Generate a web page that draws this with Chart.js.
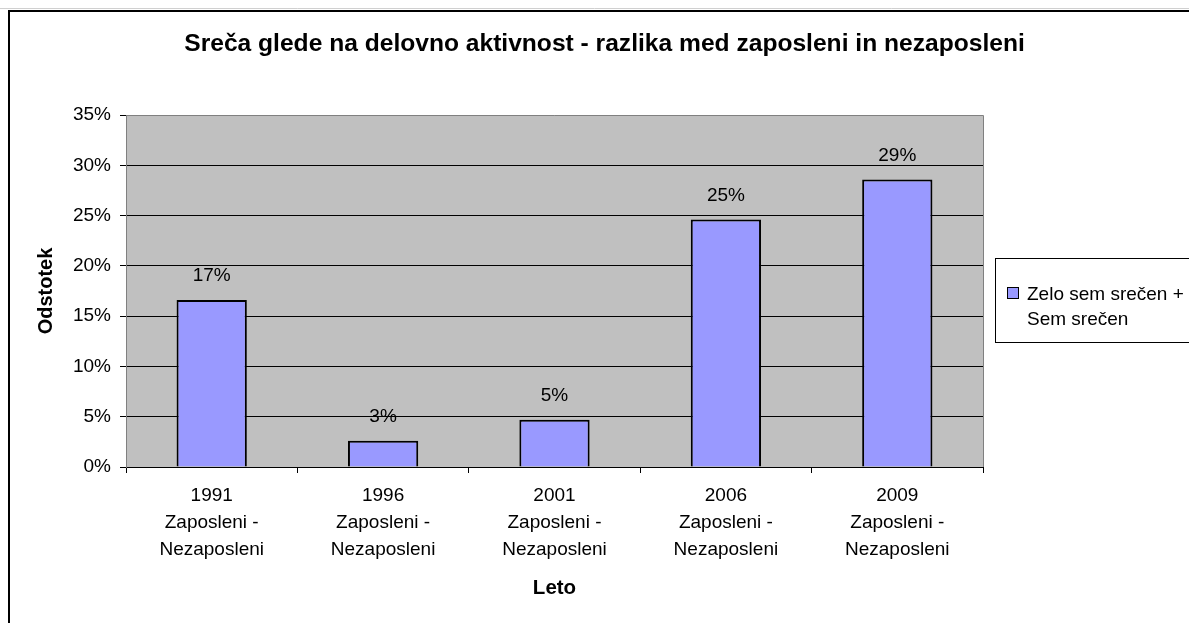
<!DOCTYPE html>
<html>
<head>
<meta charset="utf-8">
<script src="https://cdn.jsdelivr.net/npm/chart.js@4/dist/chart.umd.min.js"></script>
<style>
  html, body { margin: 0; padding: 0; background: #ffffff; }
  canvas { display: block; }
</style>
</head>
<body>
<canvas id="c" width="1189" height="623"></canvas>
<script>
// ---- data ----
const years = ['1991', '1996', '2001', '2006', '2009'];
const groupLabel = ['Zaposleni -', 'Nezaposleni'];
const values = [16.6, 2.6, 4.7, 24.6, 28.6];
const seriesName = 'Zelo sem srečen + Sem srečen';
const chartTitle = 'Sreča glede na delovno aktivnost - razlika med zaposleni in nezaposleni';
const xTitle = 'Leto';
const yTitle = 'Odstotek';
const yMin = 0, yMax = 35, yStep = 5;

const FONT = "'Liberation Sans', Arial, sans-serif";
const categories = years.map(y => [y].concat(groupLabel));

const backgroundPlugin = {
  id: 'bg',
  beforeDraw(chart) {
    const {ctx, chartArea: a} = chart;
    ctx.save();
    ctx.fillStyle = '#ffffff';
    ctx.fillRect(0, 0, chart.width, chart.height);
    // outer frame
    ctx.strokeStyle = '#d0d0d0';
    ctx.lineWidth = 1;
    ctx.beginPath(); ctx.moveTo(0, 8.5); ctx.lineTo(chart.width, 8.5); ctx.stroke();
    ctx.strokeStyle = '#000000';
    ctx.lineWidth = 2;
    ctx.beginPath();
    ctx.moveTo(9, chart.height + 5);
    ctx.lineTo(9, 11);
    ctx.lineTo(chart.width + 5, 11);
    ctx.stroke();
    // plot area
    ctx.fillStyle = '#c0c0c0';
    ctx.fillRect(a.left, a.top, a.right - a.left, a.bottom - a.top);
    ctx.restore();
  },
  afterDraw(chart) {
    const {ctx, chartArea: a} = chart;
    ctx.save();
    ctx.strokeStyle = '#808080';
    ctx.lineWidth = 1;
    ctx.beginPath();
    ctx.moveTo(a.left, a.top + 0.5);
    ctx.lineTo(a.right + 0.5, a.top + 0.5);
    ctx.lineTo(a.right + 0.5, a.bottom);
    ctx.stroke();
    ctx.restore();
  }
};

const valueLabelPlugin = {
  id: 'valueLabels',
  afterDatasetsDraw(chart) {
    const {ctx} = chart;
    const meta = chart.getDatasetMeta(0);
    ctx.save();
    ctx.font = '19px ' + FONT;
    ctx.fillStyle = '#000000';
    ctx.textAlign = 'center';
    ctx.textBaseline = 'middle';
    meta.data.forEach((bar, i) => {
      const v = chart.data.datasets[0].data[i];
      ctx.fillText(Math.round(v) + '%', bar.x, bar.y - 24);
    });
    ctx.restore();
  }
};

const legendPlugin = {
  id: 'boxLegend',
  afterDraw(chart) {
    const {ctx} = chart;
    const ds = chart.data.datasets[0];
    const bx = 995.5, by = 258.5, bw = 220, bh = 84;
    ctx.save();
    ctx.fillStyle = '#ffffff';
    ctx.fillRect(bx, by, bw, bh);
    ctx.strokeStyle = '#000000';
    ctx.lineWidth = 1;
    ctx.strokeRect(bx, by, bw, bh);
    // marker
    ctx.fillStyle = ds.backgroundColor;
    ctx.fillRect(1007.5, 287.5, 11, 11);
    ctx.strokeRect(1007.5, 287.5, 11, 11);
    // wrapped text
    ctx.font = '19px ' + FONT;
    ctx.fillStyle = '#000000';
    ctx.textAlign = 'left';
    ctx.textBaseline = 'alphabetic';
    const words = ds.label.split(' ');
    const lines = [];
    let cur = '';
    words.forEach(w => {
      const test = cur ? cur + ' ' + w : w;
      if (ctx.measureText(test).width > 165 && cur) { lines.push(cur); cur = w; }
      else cur = test;
    });
    if (cur) lines.push(cur);
    lines.forEach((l, i) => ctx.fillText(l, 1027, 300 + i * 25));
    ctx.restore();
  }
};

new Chart(document.getElementById('c'), {
  type: 'bar',
  data: {
    labels: categories,
    datasets: [{
      label: seriesName,
      data: values,
      backgroundColor: '#9999ff',
      borderColor: '#000000',
      borderWidth: 2,
      barPercentage: 0.41,
      categoryPercentage: 1.0
    }]
  },
  plugins: [backgroundPlugin, valueLabelPlugin, legendPlugin],
  options: {
    responsive: false,
    animation: false,
    devicePixelRatio: 1,
    layout: { padding: { left: 20, right: 0, top: 11, bottom: 18 } },
    plugins: {
      legend: { display: false },
      tooltip: { enabled: false },
      title: {
        display: true,
        text: chartTitle,
        color: '#000000',
        font: { family: FONT, size: 24.6, weight: 'bold', lineHeight: 1.2 },
        padding: { top: 18, bottom: 56.5 }
      }
    },
    scales: {
      x: {
        position: 'bottom',
        afterFit(s) { s.height = 138; },
        grid: {
          offset: true,
          drawOnChartArea: false,
          drawTicks: true,
          tickLength: 6,
          tickColor: '#000000',
          lineWidth: 1
        },
        border: { display: true, color: '#000000', width: 1 },
        ticks: {
          color: '#000000',
          font: { family: FONT, size: 19, lineHeight: 1.42 },
          padding: 9,
          maxRotation: 0,
          autoSkip: false
        },
        title: {
          display: true,
          text: xTitle,
          color: '#000000',
          font: { family: FONT, size: 20.5, weight: 'bold', lineHeight: 1.2 },
          padding: { top: 0, bottom: 4 }
        }
      },
      y: {
        position: 'left',
        min: yMin,
        max: yMax,
        afterFit(s) { s.width = 106; },
        grid: {
          color: ctx => (ctx.tick && ctx.tick.value === yMax) ? 'rgba(0,0,0,0)' : '#000000',
          lineWidth: 1,
          drawTicks: true,
          tickLength: 6,
          tickColor: '#000000'
        },
        border: { display: true, color: '#808080', width: 1 },
        ticks: {
          stepSize: yStep,
          color: '#000000',
          font: { family: FONT, size: 19 },
          padding: 9,
          callback: v => v + '%'
        },
        title: {
          display: true,
          text: yTitle,
          color: '#000000',
          font: { family: FONT, size: 20, weight: 'bold', lineHeight: 1.2 },
          padding: { top: 14, bottom: 0 }
        }
      },
      spacer: {
        type: 'linear',
        position: 'right',
        display: true,
        afterFit(s) { s.width = 206; },
        grid: { display: false, drawTicks: false },
        border: { display: false },
        ticks: { display: false }
      }
    }
  }
});
</script>
</body>
</html>
